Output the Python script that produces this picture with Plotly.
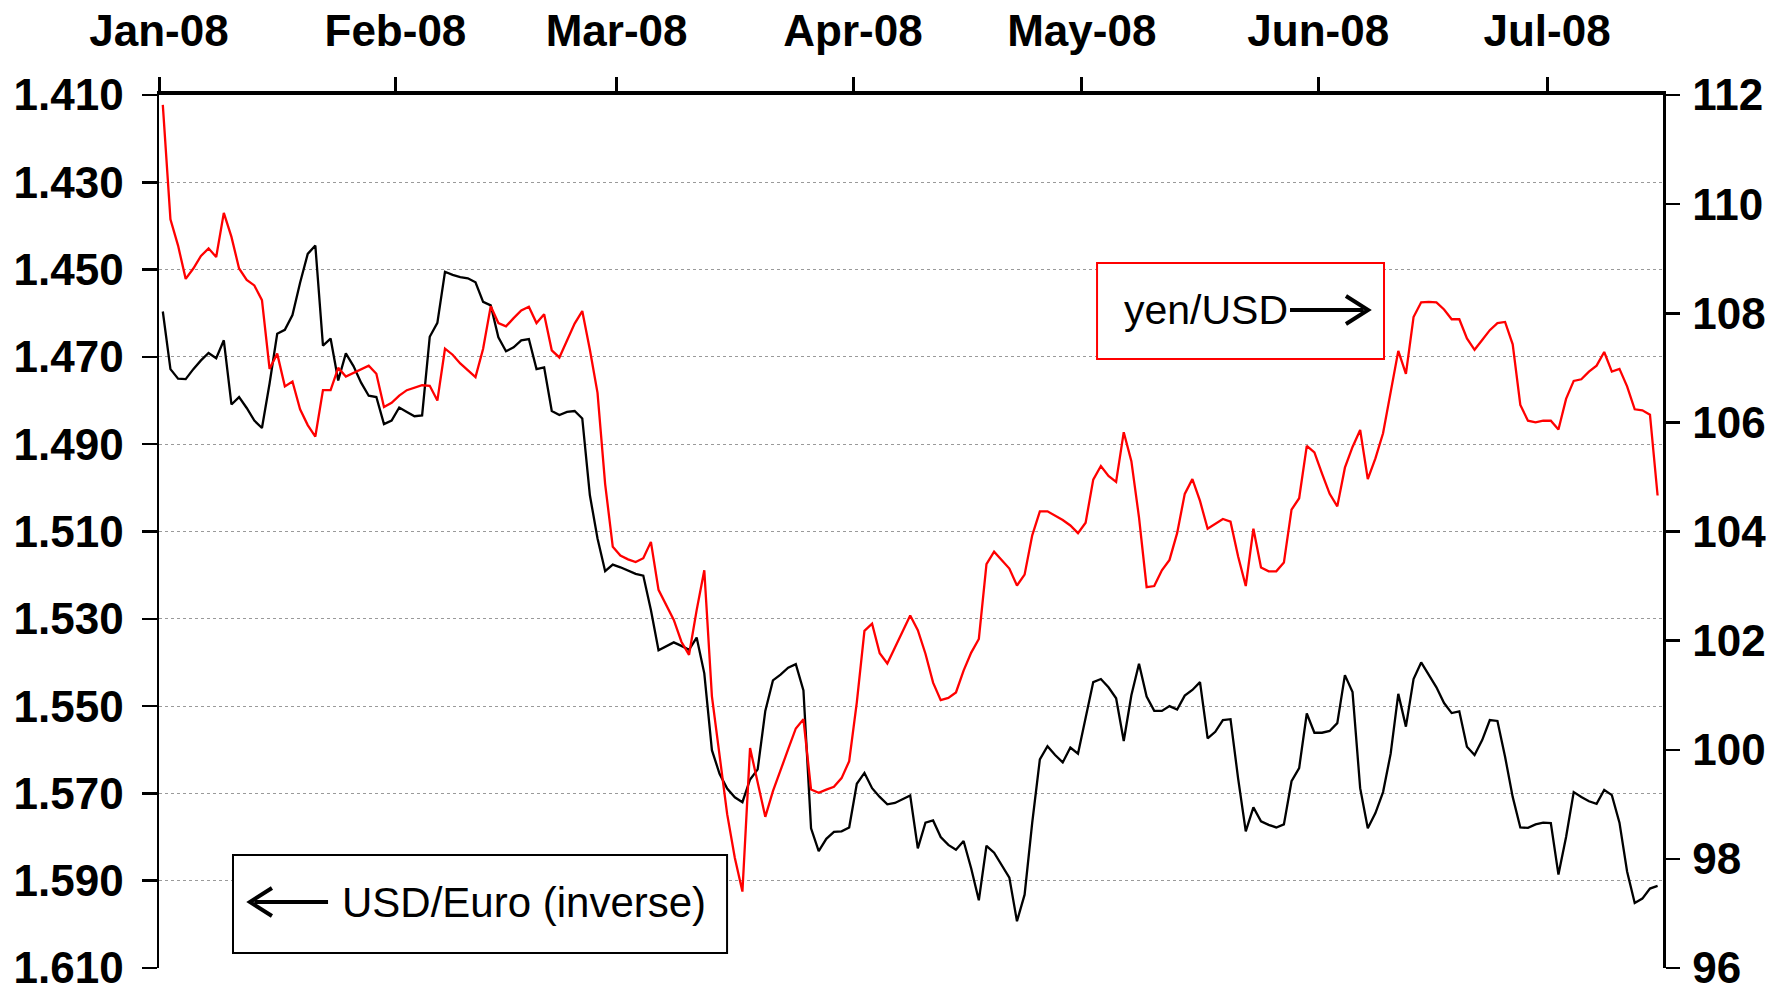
import pandas as pd
import plotly.graph_objects as go

# ---- data (daily, 2008-01-01 .. 2008-07-15) ----
start_date = "2008-01-01 12:00"

usd_euro = [
    1.4596, 1.4728, 1.4750, 1.4751, 1.4728, 1.4708, 1.4691,
    1.4703, 1.4662, 1.4809, 1.4792, 1.4817, 1.4846, 1.4863,
    1.4761, 1.4647, 1.4638, 1.4604, 1.4530, 1.4464, 1.4445,
    1.4674, 1.4658, 1.4754, 1.4692, 1.4721, 1.4759, 1.4789,
    1.4792, 1.4854, 1.4846, 1.4816, 1.4826, 1.4836, 1.4834,
    1.4654, 1.4622, 1.4505, 1.4512, 1.4517, 1.4520, 1.4529,
    1.4574, 1.4582, 1.4655, 1.4687, 1.4678, 1.4662, 1.4659,
    1.4728, 1.4724, 1.4824, 1.4833, 1.4826, 1.4824, 1.4841,
    1.5017, 1.5116, 1.5191, 1.5176, 1.5182, 1.5189, 1.5197,
    1.5201, 1.5280, 1.5372, 1.5363, 1.5354, 1.5362, 1.5371,
    1.5343, 1.5425, 1.5601, 1.5655, 1.5689, 1.5709, 1.5720,
    1.5668, 1.5645, 1.5511, 1.5441, 1.5428, 1.5412, 1.5404,
    1.5464, 1.5780, 1.5832, 1.5804, 1.5788, 1.5787, 1.5778,
    1.5678, 1.5653, 1.5688, 1.5708, 1.5725, 1.5722, 1.5714,
    1.5705, 1.5826, 1.5767, 1.5762, 1.5800, 1.5818, 1.5829,
    1.5809, 1.5872, 1.5945, 1.5820, 1.5836, 1.5864, 1.5893,
    1.5993, 1.5932, 1.5767, 1.5622, 1.5592, 1.5612, 1.5629,
    1.5595, 1.5609, 1.5530, 1.5445, 1.5438, 1.5457, 1.5482,
    1.5580, 1.5475, 1.5403, 1.5478, 1.5511, 1.5511, 1.5500,
    1.5508, 1.5476, 1.5463, 1.5445, 1.5574, 1.5559, 1.5532,
    1.5530, 1.5666, 1.5787, 1.5732, 1.5764, 1.5772, 1.5778,
    1.5771, 1.5672, 1.5642, 1.5517, 1.5561, 1.5561, 1.5557,
    1.5539, 1.5429, 1.5468, 1.5688, 1.5780, 1.5745, 1.5697,
    1.5609, 1.5472, 1.5547, 1.5438, 1.5400, 1.5428, 1.5457,
    1.5493, 1.5516, 1.5512, 1.5593, 1.5612, 1.5578, 1.5532,
    1.5534, 1.5616, 1.5708, 1.5778, 1.5779, 1.5771, 1.5767,
    1.5768, 1.5886, 1.5800, 1.5697, 1.5708, 1.5718, 1.5724,
    1.5692, 1.5704, 1.5767, 1.5879, 1.5951, 1.5941, 1.5918,
    1.5912,
]

yen_usd = [
    111.82, 109.72, 109.24, 108.63, 108.82, 109.05, 109.19,
    109.03, 109.84, 109.40, 108.82, 108.61, 108.51, 108.24,
    106.98, 107.26, 106.66, 106.75, 106.24, 105.95, 105.74,
    106.59, 106.59, 107.00, 106.84, 106.91, 106.98, 107.04,
    106.89, 106.28, 106.36, 106.49, 106.59, 106.63, 106.68,
    106.67, 106.40, 107.35, 107.24, 107.08, 106.96, 106.83,
    107.35, 108.13, 107.82, 107.76, 107.91, 108.05, 108.12,
    107.82, 107.98, 107.32, 107.19, 107.51, 107.81, 108.04,
    107.33, 106.54, 104.87, 103.72, 103.56, 103.49, 103.44,
    103.51, 103.81, 102.93, 102.66, 102.38, 101.98, 101.74,
    102.56, 103.29, 100.98, 99.93, 98.82, 98.02, 97.40,
    100.03, 99.40, 98.77, 99.24, 99.64, 100.01, 100.39,
    100.56, 99.27, 99.21, 99.27, 99.32, 99.48, 99.79,
    100.87, 102.18, 102.31, 101.77, 101.58, 101.87, 102.16,
    102.46, 102.19, 101.76, 101.23, 100.91, 100.95, 101.05,
    101.45, 101.78, 102.03, 103.40, 103.63, 103.48, 103.32,
    103.01, 103.21, 103.93, 104.37, 104.37, 104.29, 104.21,
    104.11, 103.97, 104.16, 104.95, 105.20, 105.02, 104.91,
    105.82, 105.29, 104.26, 102.98, 103.00, 103.29, 103.48,
    103.97, 104.69, 104.96, 104.56, 104.05, 104.14, 104.23,
    104.18, 103.54, 103.00, 104.05, 103.34, 103.27, 103.27,
    103.43, 104.40, 104.61, 105.57, 105.45, 105.06, 104.69,
    104.46, 105.17, 105.55, 105.86, 104.96, 105.34, 105.80,
    106.55, 107.31, 106.89, 107.93, 108.20, 108.21, 108.20,
    108.07, 107.89, 107.89, 107.54, 107.33, 107.51, 107.69,
    107.82, 107.84, 107.43, 106.32, 106.03, 106.00, 106.03,
    106.03, 105.87, 106.43, 106.76, 106.79, 106.93, 107.04,
    107.29, 106.93, 106.98, 106.66, 106.24, 106.22, 106.14,
    104.66,
]

month_ticks = ["2008-01-01", "2008-02-01", "2008-03-01", "2008-04-01",
               "2008-05-01", "2008-06-01", "2008-07-01"]
month_labels = ["Jan-08", "Feb-08", "Mar-08", "Apr-08", "May-08", "Jun-08", "Jul-08"]

left_ticks = [1.410, 1.430, 1.450, 1.470, 1.490, 1.510, 1.530, 1.550, 1.570, 1.590, 1.610]
right_ticks = [96, 98, 100, 102, 104, 106, 108, 110, 112]

label_yen = "yen/USD"
label_euro = "USD/Euro (inverse)"

dates_e = pd.date_range(start_date, periods=len(usd_euro), freq="D")
dates_y = pd.date_range(start_date, periods=len(yen_usd), freq="D")

FONT = "Liberation Sans, Arial, sans-serif"
TICKFONT = dict(family=FONT, size=44, color="black", weight="bold")

fig = go.Figure()
fig.add_trace(go.Scatter(x=dates_e, y=usd_euro, mode="lines",
                         line=dict(color="black", width=2.3), yaxis="y",
                         name="USD/Euro (inverse)"))
fig.add_trace(go.Scatter(x=dates_y, y=yen_usd, mode="lines",
                         line=dict(color="#ff0000", width=2.3), yaxis="y2",
                         name="yen/USD"))

fig.update_layout(
    width=1782, height=984,
    margin=dict(l=159, r=119, t=95, b=16, autoexpand=False),
    plot_bgcolor="white", paper_bgcolor="white",
    showlegend=False,
    font=dict(family=FONT, color="black"),
    xaxis=dict(
        type="date", side="top", automargin=False,
        range=["2008-01-01", "2008-07-16 05:00"],
        tickvals=month_ticks, ticktext=month_labels,
        showgrid=False, zeroline=False,
        showline=True, linecolor="black", linewidth=4,
        ticks="outside", ticklen=14, tickwidth=3, tickcolor="black",
        tickfont=TICKFONT,
        ticklabelstandoff=13, ticklabeloverflow="allow",
    ),
    yaxis=dict(
        range=[1.610, 1.410], automargin=False,
        tickvals=left_ticks, tickformat=".3f",
        showgrid=True, gridcolor="#9a9a9a", griddash="dot", gridwidth=1,
        zeroline=False,
        showline=True, linecolor="black", linewidth=2.5,
        ticks="outside", ticklen=15, tickwidth=2.5, tickcolor="black",
        tickfont=TICKFONT,
        ticklabelstandoff=9, ticklabeloverflow="allow",
    ),
    yaxis2=dict(
        overlaying="y", side="right", automargin=False,
        range=[96, 112], tickvals=right_ticks,
        showgrid=False, zeroline=False,
        showline=True, linecolor="black", linewidth=2.5,
        ticks="outside", ticklen=14, tickwidth=2.5, tickcolor="black",
        tickfont=TICKFONT,
        ticklabelstandoff=4, ticklabeloverflow="allow",
    ),
)

shapes = [
    # yen/USD label box
    dict(type="rect", xref="paper", yref="paper", x0=0.6237, x1=0.8145,
         y0=0.6976, y1=0.8076, line=dict(color="#ff0000", width=2),
         fillcolor="white", layer="above"),
    # USD/Euro label box
    dict(type="rect", xref="paper", yref="paper", x0=0.0492, x1=0.3777,
         y0=0.0172, y1=0.1294, line=dict(color="black", width=2),
         fillcolor="white", layer="above"),
    # right arrow
    dict(type="line", xref="paper", yref="paper", x0=0.7520, x1=0.8010,
         y0=0.7537, y1=0.7537, line=dict(color="black", width=4), layer="above"),
    dict(type="path", xref="paper", yref="paper",
         path="M 0.7892 0.7698 L 0.8039 0.7537 L 0.7892 0.7377",
         line=dict(color="black", width=4), layer="above"),
    # left arrow
    dict(type="line", xref="paper", yref="paper", x0=0.0634, x1=0.1124,
         y0=0.0756, y1=0.0756, line=dict(color="black", width=4), layer="above"),
    dict(type="path", xref="paper", yref="paper",
         path="M 0.0751 0.0916 L 0.0605 0.0756 L 0.0751 0.0596",
         line=dict(color="black", width=4), layer="above"),
]
fig.update_layout(shapes=shapes)

fig.add_annotation(text=label_yen, xref="paper", yref="paper", x=0.7520, y=0.7537,
                   xanchor="right", yanchor="middle", showarrow=False,
                   font=dict(family=FONT, size=41, color="black"))
fig.add_annotation(text=label_euro, xref="paper", yref="paper", x=0.1203, y=0.0756,
                   xanchor="left", yanchor="middle", showarrow=False,
                   font=dict(family=FONT, size=42, color="black"))

fig.write_html("out.html",
               config={"displayModeBar": False, "staticPlot": True},
               post_script="document.body.style.margin='0px';"
                           "document.body.style.overflow='hidden';")
